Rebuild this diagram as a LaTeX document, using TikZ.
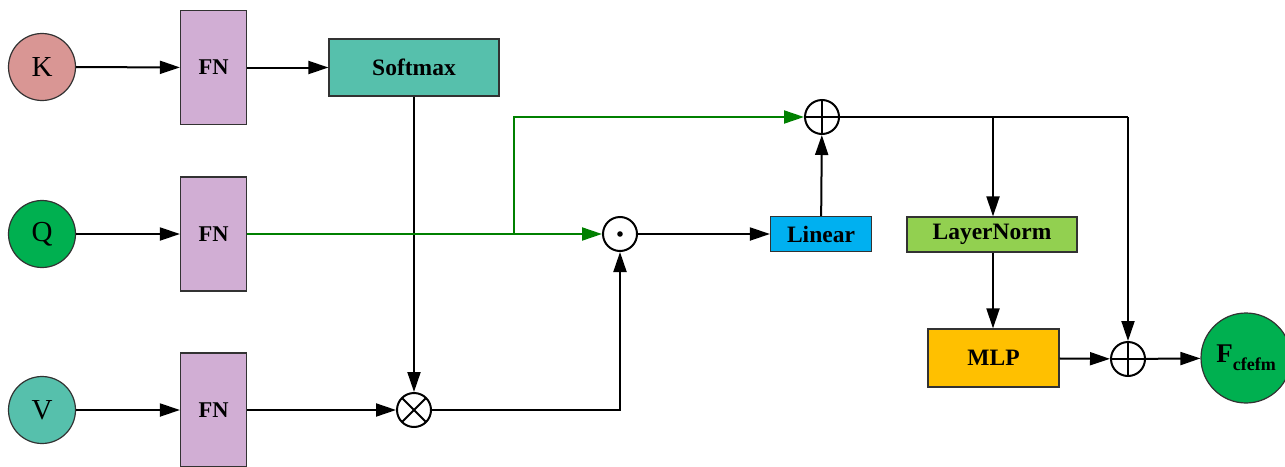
\documentclass[tikz,border=0pt]{standalone}
\usepackage{fontspec}
\setmainfont{Liberation Serif}
\usetikzlibrary{arrows.meta}

\definecolor{kcol}{RGB}{217,150,148}
\definecolor{qcol}{RGB}{0,176,80}
\definecolor{tealc}{RGB}{86,192,172}
\definecolor{fncol}{RGB}{209,174,212}
\definecolor{lincol}{RGB}{0,176,240}
\definecolor{lncol}{RGB}{146,208,80}
\definecolor{mlpcol}{RGB}{255,192,0}
\definecolor{skipgreen}{RGB}{0,128,0}
\definecolor{edgegray}{RGB}{50,50,50}

\tikzset{
  inputnode/.style={circle, draw=edgegray, line width=1.2pt, minimum size=67pt, inner sep=0pt,
    font=\fontsize{29}{32}\selectfont},
  fnbox/.style={rectangle, draw=edgegray, line width=1.2pt, fill=fncol, minimum width=66pt,
    minimum height=114pt, inner sep=0pt, font=\bfseries\fontsize{22.5}{26}\selectfont},
  opbox/.style={rectangle, draw=edgegray, line width=1.2pt, inner sep=0pt,
    font=\bfseries\fontsize{23.5}{27}\selectfont},
  opcirc/.style={circle, draw=black, line width=2pt, minimum size=34pt, inner sep=0pt},
  plusop/.style={opcirc, path picture={
      \draw[line width=2pt] (path picture bounding box.north) -- (path picture bounding box.south);
      \draw[line width=2pt] (path picture bounding box.west) -- (path picture bounding box.east);}},
  timesop/.style={opcirc, path picture={
      \draw[line width=2pt] (path picture bounding box.north west) -- (path picture bounding box.south east);
      \draw[line width=2pt] (path picture bounding box.south west) -- (path picture bounding box.north east);}},
  dotop/.style={opcirc, path picture={
      \fill (path picture bounding box.center) circle (2.8pt);}},
  arr/.style={line width=2pt, -{Triangle[length=20pt, width=13pt]}},
  garr/.style={arr, draw=skipgreen, -{Triangle[length=20pt, width=13pt]}, color=skipgreen},
  link/.style={line width=2pt},
}

\begin{document}
\begin{tikzpicture}[x=1pt, y=-1pt]
  \useasboundingbox (0,0) rectangle (1285,466);

  % inputs
  \node[inputnode, fill=kcol]  (K) at (42,67)  {K};
  \node[inputnode, fill=qcol]  (Q) at (42,234) {Q};
  \node[inputnode, fill=tealc] (V) at (42,410) {V};

  % projections
  \node[fnbox] (FN1) at (213.5,67.5) {FN};
  \node[fnbox] (FN2) at (213.5,234)  {FN};
  \node[fnbox] (FN3) at (213.5,410)  {FN};

  % attention blocks
  \node[opbox, fill=tealc, minimum width=170pt, minimum height=57pt] (SM) at (414,67.5) {Softmax};
  \node[timesop] (MUL) at (414,410) {};
  \node[dotop]   (DOT) at (620,234) {};
  \node[opbox, fill=lincol, minimum width=101pt, minimum height=35pt] (LIN) at (821,234) {Linear};
  \node[plusop]  (ADD1) at (822,117) {};

  % feed-forward part
  \node[opbox, fill=lncol, minimum width=170pt, minimum height=35pt] (LN) at (992,234.5) {LayerNorm};
  \node[opbox, fill=mlpcol, minimum width=131pt, minimum height=58pt] (MLP) at (993.5,358) {MLP};
  \node[plusop]  (ADD2) at (1128,359) {};
  \node[circle, draw=edgegray, line width=1.2pt, fill=qcol, minimum size=90pt, inner sep=0pt]
    (OUT) at (1246,358) {\bfseries\fontsize{27}{30}\selectfont F\raisebox{-8pt}{\fontsize{18}{20}\selectfont cfefm}};

  % helper points
  \coordinate (BR) at (514,234);
  \coordinate (CR) at (1128,117);
  \coordinate (CL) at (993,117);

  % connectors
  \draw[arr] (K) -- (FN1);
  \draw[arr] (Q) -- (FN2);
  \draw[arr] (V) -- (FN3);
  \draw[arr] (FN1) -- (SM);
  \draw[arr] (SM) -- (MUL);
  \draw[arr] (FN3) -- (MUL);
  \draw[arr] (MUL) -| (DOT);
  \draw[garr] (FN2) -- (DOT);
  \draw[garr] (BR) |- (ADD1);
  \draw[arr] (DOT) -- (LIN);
  \draw[arr] (LIN) -- (ADD1);
  \draw[link] (ADD1) -- (CR);
  \draw[arr] (CR) -- (ADD2);
  \draw[arr] (CL) -- (LN.north -| CL);
  \draw[arr] (LN.south -| CL) -- (MLP.north -| CL);
  \draw[arr] (MLP) -- (ADD2);
  \draw[arr] (ADD2) -- (OUT);
\end{tikzpicture}
\end{document}
